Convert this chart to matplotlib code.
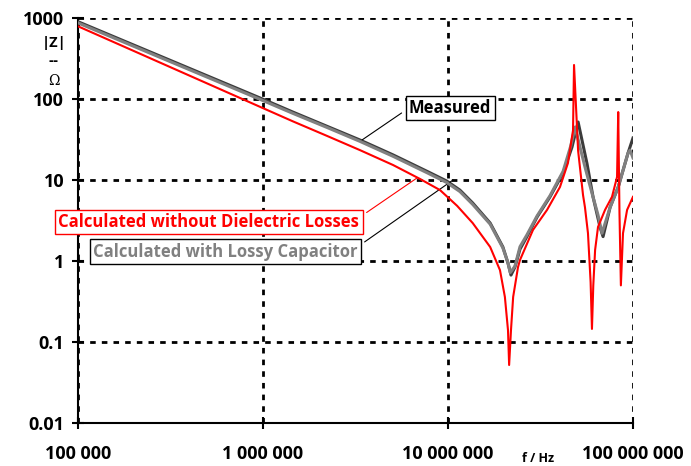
import matplotlib as mpl
mpl.use("Agg")
import matplotlib.pyplot as plt
from matplotlib.ticker import FixedLocator, NullLocator

plt.rcParams["font.family"] = ["Open Sans", "DejaVu Sans"]
plt.rcParams["font.weight"] = "bold"

# |Z| in ohm over frequency in Hz
freq_nolosses = [1e5, 9.64e5, 1.45e6, 2.22e6, 3.34e6, 5.05e6, 7.06e6, 9.06e6, 1.12e7, 1.36e7,
                 1.69e7, 1.91e7, 2.03e7, 2.11e7, 2.14e7, 2.19e7, 2.25e7, 2.39e7, 2.45e7, 2.88e7,
                 3.43e7, 4.03e7, 4.45e7, 4.74e7, 4.8e7, 5.05e7, 5.37e7, 5.5e7, 5.71e7, 5.9e7,
                 6.0e7, 6.1e7, 6.24e7, 6.47e7, 7.06e7, 7.7e7, 8.2e7, 8.32e7, 8.45e7, 8.6e7,
                 8.83e7, 9.29e7, 1e8]
z_nolosses = [790, 80, 53, 35, 23.4, 15.3, 10.3, 7.5, 4.8, 2.94,
              1.49, 0.77, 0.36, 0.14, 0.052, 0.14, 0.36, 0.84, 1.03, 2.42,
              4.27, 8.2, 16.2, 41, 263, 23, 6.5, 4.6, 2.2, 0.55,
              0.145, 0.5, 1.37, 2.63, 4.27, 6.2, 10.9, 69, 4, 0.5,
              2.2, 4.27, 6.2]

freq_measured = [1e5, 9.64e5, 1.45e6, 2.22e6, 3.34e6, 5.05e6, 7.7e6, 9.85e6, 1.16e7, 1.36e7,
                 1.69e7, 1.98e7, 2.11e7, 2.19e7, 2.30e7, 2.36e7, 2.45e7, 2.67e7, 3.03e7, 3.56e7,
                 4.19e7, 4.68e7, 5.05e7, 5.64e7, 6.08e7, 6.64e7, 6.89e7, 7.52e7, 8.32e7, 9.4e7,
                 1e8]
z_measured = [900, 103, 69, 46, 31.2, 20.4, 12.8, 9.7, 7.5, 5.2,
              2.94, 1.49, 0.94, 0.67, 0.84, 1.03, 1.4, 2.0, 3.49, 6.2,
              12.2, 25.5, 52, 16, 6.2, 2.6, 2.0, 4.6, 8.2, 21.5,
              33]

freq_lossy = [1e5, 9.64e5, 1.45e6, 2.22e6, 3.34e6, 5.05e6, 7.7e6, 9.85e6, 1.16e7, 1.36e7,
              1.69e7, 1.98e7, 2.11e7, 2.17e7, 2.30e7, 2.36e7, 2.45e7, 2.67e7, 3.03e7, 3.56e7,
              4.19e7, 4.6e7, 4.86e7, 5.5e7, 6.0e7, 6.47e7, 6.8e7, 7.52e7, 8.32e7, 9.4e7,
              9.64e7, 1e8]
z_lossy = [870, 99, 66.5, 44.5, 30, 19.6, 12.3, 9.3, 7.2, 5.0,
           2.85, 1.45, 0.95, 0.72, 0.86, 1.08, 1.5, 2.1, 3.6, 6.4,
           12.8, 26, 45, 14.5, 6.9, 3.7, 2.2, 4.6, 8.2, 21.5,
           23.4, 18.7]

x_ticks = [1e5, 1e6, 1e7, 1e8]
x_labels = ["100 000", "1 000 000", "10 000 000", "100 000 000"]
y_ticks = [0.01, 0.1, 1, 10, 100, 1000]
y_labels = ["0.01", "0.1", "1", "10", "100", "1000"]

RED = "#ff0000"
DARK = "#3c3c3c"
GREY = "#808080"

fig = plt.figure(figsize=(6.91, 4.66), dpi=100)
ax = fig.add_axes([78 / 691, 43 / 466, 555 / 691, 405 / 466])
ax.set_xscale("log")
ax.set_yscale("log")
ax.set_xlim(1e5, 1e8)
ax.set_ylim(0.01, 1000)

ax.plot(freq_measured, z_measured, color=DARK, lw=2.2, solid_joinstyle="round", zorder=3)
ax.plot(freq_lossy, z_lossy, color=GREY, lw=2.2, solid_joinstyle="round", zorder=4)
ax.plot(freq_nolosses, z_nolosses, color=RED, lw=1.5, solid_joinstyle="round", zorder=5)

ax.xaxis.set_major_locator(FixedLocator(x_ticks))
ax.xaxis.set_minor_locator(NullLocator())
ax.yaxis.set_major_locator(FixedLocator(y_ticks))
ax.yaxis.set_minor_locator(NullLocator())
ax.set_xticklabels(x_labels)
ax.set_yticklabels(y_labels)
ax.tick_params(direction="inout", length=8, width=1.5, labelsize=13, pad=6)
ax.tick_params(axis="x", pad=12)

ax.grid(True, color="black", lw=2, linestyle=(0, (2, 2.2)))
for side in ("top", "right"):
    ax.spines[side].set_visible(False)
for side in ("left", "bottom"):
    ax.spines[side].set_linewidth(1.5)

# y label as stacked fraction |Z| / Ohm
fig.text(54 / 691, 1 - 43 / 466, "|Z|", ha="center", va="center", fontsize=10.5)
fig.text(54 / 691, 1 - 61 / 466, "--", ha="center", va="center", fontsize=11)
fig.text(54 / 691, 1 - 81 / 466, "Ω", ha="center", va="center", fontsize=10,
         fontweight="normal", family=["DejaVu Serif"])
fig.text(538 / 691, 1 - 458 / 466, "f / Hz", ha="center", va="center", fontsize=9)

ax.annotate("Measured", xy=(3.43e6, 31.2), xytext=(1.026e7, 77.4),
            ha="center", va="center", fontsize=12, color="black",
            bbox=dict(boxstyle="square,pad=0.2", fc="white", ec="black", lw=1),
            arrowprops=dict(arrowstyle="-", color="black", lw=0.8,
                            relpos=(0, 0.5), shrinkA=3, shrinkB=0))
ax.annotate("Calculated without Dielectric Losses", xy=(6.8e6, 10.6), xytext=(5.1e5, 3.03),
            ha="center", va="center", fontsize=12, color=RED,
            bbox=dict(boxstyle="square,pad=0.2", fc="white", ec=RED, lw=1),
            arrowprops=dict(arrowstyle="-", color=RED, lw=0.8,
                            relpos=(1, 0.75), shrinkA=3, shrinkB=0))
ax.annotate("Calculated with Lossy Capacitor", xy=(1.065e7, 10), xytext=(6.24e5, 1.31),
            ha="center", va="center", fontsize=12, color=GREY,
            bbox=dict(boxstyle="square,pad=0.2", fc="white", ec="black", lw=1),
            arrowprops=dict(arrowstyle="-", color="black", lw=0.8,
                            relpos=(1, 0.75), shrinkA=3, shrinkB=0))

fig.savefig("out.png", dpi=100)
